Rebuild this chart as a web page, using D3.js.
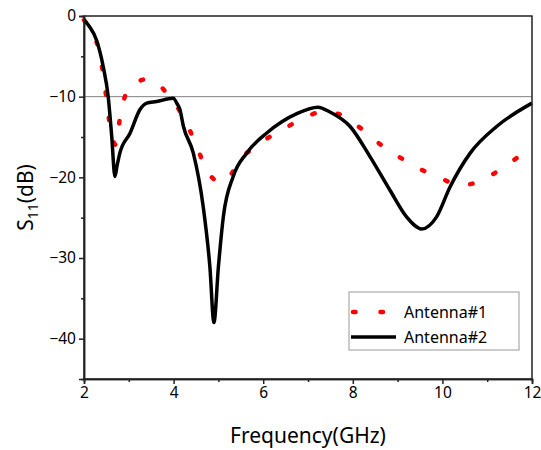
<!DOCTYPE html>
<html>
<head>
<meta charset="utf-8">
<script src="https://cdn.jsdelivr.net/npm/d3@7"></script>
<style>
  body { margin: 0; background: #fff; }
  text { font-family: "Noto Sans", "Open Sans", sans-serif; fill: #000; }
</style>
</head>
<body>
<div class="svg-container"></div>
<script>
// Antenna#1 (red dotted)
var freq1 = [2.0, 2.15, 2.32, 2.43, 2.51, 2.58, 2.66, 2.72, 2.8, 2.95, 3.15, 3.43, 3.65, 3.88, 4.05, 4.24, 4.5, 4.72, 4.95, 5.13, 5.3, 5.48, 5.75, 6.0, 6.52, 7.04, 7.3, 7.65, 8.15, 8.61, 9.13, 9.66, 10.0, 10.21, 10.5, 10.79, 11.3, 11.81, 12.0];
var s11a = [-0.5, -1.8, -4.0, -7.3, -10.6, -13.7, -15.6, -16.0, -12.7, -9.5, -8.3, -7.8, -8.4, -9.8, -11.0, -12.8, -15.9, -18.9, -20.4, -20.6, -19.5, -17.8, -16.5, -15.5, -13.8, -12.3, -11.9, -12.1, -13.8, -15.9, -17.8, -19.4, -20.2, -20.7, -20.9, -20.6, -19.0, -17.1, -16.6];

// Antenna#2 (black solid)
var freq2 = [2.0, 2.12, 2.28, 2.43, 2.54, 2.62, 2.69, 2.74, 2.8, 3.03, 3.25, 3.4, 3.62, 3.99, 4.08, 4.14, 4.22, 4.44, 4.66, 4.81, 4.9, 5.0, 5.11, 5.33, 5.63, 6.08, 6.75, 7.22, 7.49, 7.94, 8.38, 8.83, 9.2, 9.54, 9.87, 10.17, 10.62, 11.21, 12.0];
var s11b = [-0.5, -1.3, -3.0, -6.3, -10.0, -15.0, -19.9, -18.5, -17.0, -14.5, -11.6, -10.8, -10.6, -10.2, -10.9, -11.6, -13.7, -17.0, -23.6, -31.1, -38.0, -31.1, -24.9, -19.9, -17.0, -14.5, -12.1, -11.3, -11.9, -13.7, -17.4, -21.6, -24.9, -26.4, -24.9, -21.2, -17.0, -13.7, -10.8];

var xTicks = [2, 4, 6, 8, 10, 12];
var yTicks = [0, -10, -20, -30, -40];
var seriesNames = ["Antenna#1", "Antenna#2"];

var margin = {top: 16, right: 9, bottom: 71, left: 84},
    width = 541 - margin.left - margin.right,
    height = 450 - margin.top - margin.bottom;

var svg = d3.select(".svg-container").append("svg")
    .attr("width", 541)
    .attr("height", 450);

var g = svg.append("g")
    .attr("transform", "translate(" + margin.left + "," + margin.top + ")");

var x = d3.scaleLinear().domain([2, 12]).range([0, width]);
var y = d3.scaleLinear().domain([-45, 0]).range([height, 0]);

var data1 = freq1.map(function(f, i) { return {f: f, v: s11a[i]}; });
var data2 = freq2.map(function(f, i) { return {f: f, v: s11b[i]}; });

// reference line at -10 dB
g.append("line")
    .attr("x1", 0).attr("x2", width)
    .attr("y1", y(-10)).attr("y2", y(-10))
    .style("stroke", "#808080")
    .style("stroke-width", 1);

var line = d3.line()
    .curve(d3.curveMonotoneX)
    .x(function(d) { return x(d.f); })
    .y(function(d) { return y(d.v); });

g.append("path")
    .datum(data1)
    .attr("d", line)
    .style("fill", "none")
    .style("stroke", "#ff0000")
    .style("stroke-width", 4.5)
    .style("stroke-linecap", "round")
    .style("stroke-dasharray", "2.5,23");

g.append("path")
    .datum(data2)
    .attr("d", line)
    .style("fill", "none")
    .style("stroke", "#000")
    .style("stroke-width", 3.5)
    .style("stroke-linejoin", "round");

// frame
g.append("rect")
    .attr("width", width).attr("height", height)
    .style("fill", "none")
    .style("stroke", "#222")
    .style("stroke-width", 1.5);

// minor ticks
var xAxisMinor = d3.axisBottom(x).tickValues(d3.range(3, 12, 2)).tickSize(3).tickFormat("");
var yAxisMinor = d3.axisLeft(y).tickValues([-5, -15, -25, -35]).tickSize(3).tickFormat("");

g.append("g").attr("transform", "translate(0," + height + ")").call(xAxisMinor);
g.append("g").call(yAxisMinor);

var xAxis = d3.axisBottom(x).tickValues(xTicks).tickSize(5).tickPadding(3).tickFormat(d3.format("d"));
var yAxis = d3.axisLeft(y).tickValues(yTicks).tickSize(5).tickPadding(3).tickFormat(d3.format("d"));

g.append("g")
    .attr("class", "axis")
    .attr("transform", "translate(0," + height + ")")
    .call(xAxis);

g.append("g")
    .attr("class", "axis")
    .call(yAxis);

g.selectAll(".axis text").style("font-size", "15.5px");
g.selectAll(".tick line").style("stroke", "#222").style("stroke-width", 1.5);
g.selectAll(".domain").style("stroke", "#222").style("stroke-width", 1.5);

// axis titles
svg.append("text")
    .attr("x", margin.left + width / 2)
    .attr("y", 443)
    .attr("text-anchor", "middle")
    .style("font-size", "21px")
    .text("Frequency(GHz)");

var yl = svg.append("text")
    .attr("transform", "translate(33," + (margin.top + height / 2) + ") rotate(-90)")
    .attr("text-anchor", "middle")
    .style("font-size", "21px");
yl.append("tspan").text("S");
yl.append("tspan").attr("dy", 5).style("font-size", "14px").text("11");
yl.append("tspan").attr("dy", -5).text("(dB)");

// legend
var lg = svg.append("g").attr("transform", "translate(349,292)");
lg.append("rect")
    .attr("width", 170).attr("height", 58)
    .style("fill", "#fff")
    .style("stroke", "#999")
    .style("stroke-width", 1);

lg.append("line")
    .attr("x1", 4).attr("x2", 46).attr("y1", 20).attr("y2", 20)
    .style("stroke", "#ff0000")
    .style("stroke-width", 4.5)
    .style("stroke-linecap", "round")
    .style("stroke-dasharray", "2.5,25");

lg.append("line")
    .attr("x1", 2).attr("x2", 47).attr("y1", 45).attr("y2", 45)
    .style("stroke", "#000")
    .style("stroke-width", 3.5);

lg.selectAll("text.leg")
    .data(seriesNames)
    .enter()
    .append("text")
    .attr("class", "leg")
    .attr("x", 55)
    .attr("y", function(d, i) { return 20 + i * 25; })
    .attr("dy", "0.35em")
    .style("font-size", "16px")
    .text(function(d) { return d; });
</script>
</body>
</html>
